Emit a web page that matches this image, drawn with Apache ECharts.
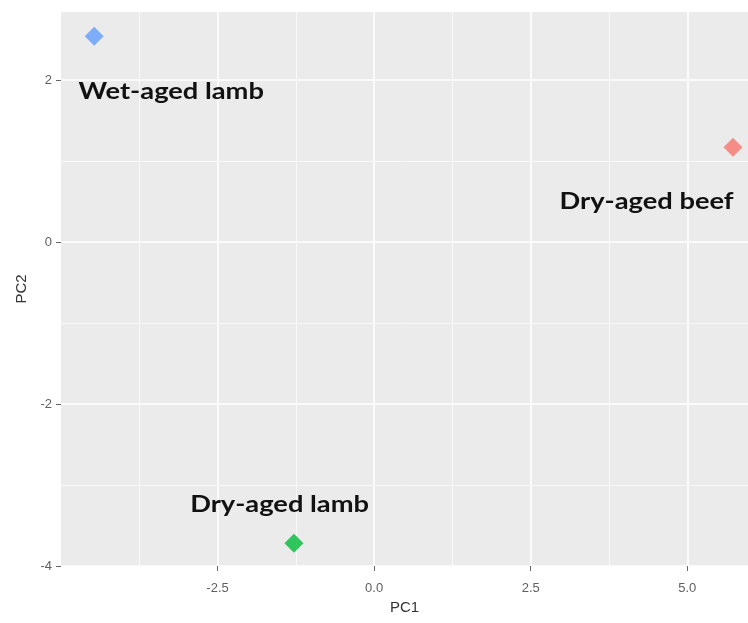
<!DOCTYPE html>
<html><head><meta charset="utf-8">
<script src="https://cdn.jsdelivr.net/npm/echarts@6/dist/echarts.min.js"></script>
<style>html,body{margin:0;padding:0;background:#fff}#c{width:748px;height:623px}</style>
</head><body><div id="c"></div>
<script>
const groups = ['Dry-aged beef', 'Dry-aged lamb', 'Wet-aged lamb'];
const pc1 = [5.73, -1.28, -4.47];
const pc2 = [1.17, -3.72, 2.54];
const colors = ['#F8766D', '#00BA38', '#619CFF'];
const labelX = [4.35, -1.51, -3.24];
const labelY = [0.49, -3.25, 1.85];
const xTicks = [-2.5, 0, 2.5, 5];
const yTicks = [-4, -2, 0, 2];

const chart = echarts.init(document.getElementById('c'));
const isTick = (v, arr) => arr.some(t => Math.abs(t - v) < 1e-6);
chart.setOption({
  animation: false,
  backgroundColor: '#fff',
  grid: { left: 61, width: 687, top: 12, height: 554, show: true, backgroundColor: '#EBEBEB', borderWidth: 0 },
  xAxis: {
    type: 'value', min: -5, max: 5.97, interval: 2.5,
    name: 'PC1', nameLocation: 'middle', nameGap: 27,
    nameTextStyle: { fontFamily: 'Liberation Sans, Arial', fontSize: 15, color: '#333' },
    axisLine: { show: false, onZero: false },
    axisTick: { show: true, length: 5, lineStyle: { color: '#666' }, customValues: xTicks },
    axisLabel: { margin: 16, fontFamily: 'Liberation Sans, Arial', fontSize: 13, color: '#606060', customValues: xTicks,
      formatter: v => isTick(v, xTicks) ? v.toFixed(1) : '' },
    splitLine: { show: true, lineStyle: { color: '#fff', width: 1.6 } },
    minorTick: { show: false, splitNumber: 2 },
    minorSplitLine: { show: true, lineStyle: { color: '#fff', width: 0.7 } }
  },
  yAxis: {
    type: 'value', min: -4, max: 2.84, interval: 2,
    name: 'PC2', nameLocation: 'middle', nameGap: 31,
    nameTextStyle: { fontFamily: 'Liberation Sans, Arial', fontSize: 15, color: '#333' },
    axisLine: { show: false, onZero: false },
    axisTick: { show: true, length: 5, lineStyle: { color: '#666' }, customValues: yTicks },
    axisLabel: { margin: 9, fontFamily: 'Liberation Sans, Arial', fontSize: 13, color: '#606060', customValues: yTicks,
      formatter: v => isTick(v, yTicks) ? String(v) : '' },
    splitLine: { show: true, lineStyle: { color: '#fff', width: 1.6 } },
    minorTick: { show: false, splitNumber: 2 },
    minorSplitLine: { show: true, lineStyle: { color: '#fff', width: 0.7 } }
  },
  series: [
    {
      type: 'scatter', symbol: 'diamond', symbolSize: 19,
      data: pc1.map((x, i) => ({ value: [x, pc2[i]], itemStyle: { color: colors[i] } })),
      z: 3
    },
    {
      type: 'custom',
      data: labelX.map((x, i) => [x, labelY[i], i]),
      renderItem: (params, api) => {
        const p = api.coord([api.value(0), api.value(1)]);
        return {
          type: 'text', x: p[0], y: p[1], scaleX: 1.24, scaleY: 1,
          style: { text: groups[api.value(2)], textAlign: 'center', textVerticalAlign: 'middle',
            font: 'bold 22px Lato, "Open Sans", sans-serif', fill: '#111' }
        };
      },
      z: 4
    }
  ]
});
</script></body></html>
